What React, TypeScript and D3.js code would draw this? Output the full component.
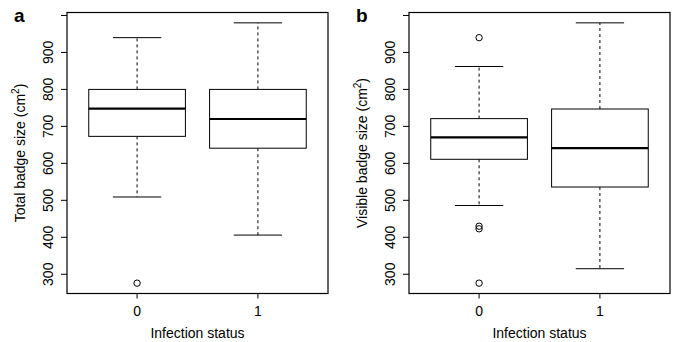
import React from "react";
import * as d3 from "d3";

const groups = [1, 2];
const groupLabels = ["0", "1"];
const yTicks = [300, 400, 500, 600, 700, 800, 900, 1000];
const yTickLabels = ["300", "400", "500", "600", "700", "800", "900", ""];

// Panel a: total badge size
const totalLow = [509, 406];
const totalQ1 = [673, 641];
const totalMedian = [748, 720];
const totalQ3 = [800, 800];
const totalHigh = [940, 980];
const totalOutliers0 = [276];
const totalOutliers1: number[] = [];

// Panel b: visible badge size
const visibleLow = [486, 315];
const visibleQ1 = [611, 536];
const visibleMedian = [670, 641];
const visibleQ3 = [721, 747];
const visibleHigh = [862, 980];
const visibleOutliers0 = [940, 430, 423, 276];
const visibleOutliers1: number[] = [];

const FONT = "'Liberation Sans', Arial, Helvetica, sans-serif";

type PanelProps = {
  left: number;
  right: number;
  letter: string;
  ylabel: string;
  low: number[];
  q1: number[];
  med: number[];
  q3: number[];
  high: number[];
  outliers: number[][];
};

function Panel({ left, right, letter, ylabel, low, q1, med, q3, high, outliers }: PanelProps) {
  const top = 12.5;
  const bottom = 293.5;
  const y = d3.scaleLinear().domain([248, 1008]).range([bottom, top]);
  const x = d3.scaleLinear().domain([0.42, 2.58]).range([left, right]);
  const bw = x(1.8) - x(1);
  const cw = bw / 2;
  const midY = (top + bottom) / 2;
  return (
    <g fontFamily={FONT}>
      <text x={left - 53} y={21.5} fontSize={19} fontWeight="bold">{letter}</text>
      {/* frame */}
      <rect x={left} y={top} width={right - left} height={bottom - top} fill="none" stroke="#000" strokeWidth={1.2} />
      {/* y axis ticks */}
      {yTicks.map((t, i) => (
        <g key={t}>
          <line x1={left - 6} x2={left} y1={y(t)} y2={y(t)} stroke="#000" strokeWidth={1} />
          <text
            transform={`translate(${left - 14},${y(t)}) rotate(-90)`}
            textAnchor="middle"
            fontSize={14}
          >
            {yTickLabels[i]}
          </text>
        </g>
      ))}
      {/* y label */}
      <text transform={`translate(${left - 42},${midY}) rotate(-90)`} textAnchor="middle" fontSize={14}>
        {ylabel} (cm
        <tspan fontSize={10} dy={-6}>2</tspan>
        <tspan dy={6}>)</tspan>
      </text>
      {/* x ticks */}
      {groups.map((g, i) => (
        <g key={g}>
          <line x1={x(g)} x2={x(g)} y1={bottom} y2={bottom + 5} stroke="#000" strokeWidth={1} />
          <text x={x(g)} y={315.5} textAnchor="middle" fontSize={14}>{groupLabels[i]}</text>
        </g>
      ))}
      <text x={(left + right) / 2} y={338} textAnchor="middle" fontSize={14}>Infection status</text>
      {/* boxes */}
      {groups.map((g, i) => {
        const cx = x(g);
        return (
          <g key={"b" + g}>
            <line x1={cx} x2={cx} y1={y(q3[i])} y2={y(high[i])} stroke="#000" strokeWidth={1} strokeDasharray="3,3" />
            <line x1={cx} x2={cx} y1={y(q1[i])} y2={y(low[i])} stroke="#000" strokeWidth={1} strokeDasharray="3,3" />
            <line x1={cx - cw / 2} x2={cx + cw / 2} y1={y(high[i])} y2={y(high[i])} stroke="#000" strokeWidth={1} />
            <line x1={cx - cw / 2} x2={cx + cw / 2} y1={y(low[i])} y2={y(low[i])} stroke="#000" strokeWidth={1} />
            <rect x={cx - bw / 2} y={y(q3[i])} width={bw} height={y(q1[i]) - y(q3[i])} fill="#fff" stroke="#000" strokeWidth={1} />
            <line x1={cx - bw / 2} x2={cx + bw / 2} y1={y(med[i])} y2={y(med[i])} stroke="#000" strokeWidth={2.2} />
            {outliers[i].map((o, j) => (
              <circle key={j} cx={cx} cy={y(o)} r={3.2} fill="none" stroke="#000" strokeWidth={1} />
            ))}
          </g>
        );
      })}
    </g>
  );
}

export default function App() {
  return (
    <svg width={691} height={342} style={{ position: "absolute", left: 0, top: 0, background: "#fff" }}>
      <rect width={691} height={342} fill="#fff" />
      <Panel
        left={67}
        right={328}
        letter="a"
        ylabel="Total badge size"
        low={totalLow}
        q1={totalQ1}
        med={totalMedian}
        q3={totalQ3}
        high={totalHigh}
        outliers={[totalOutliers0, totalOutliers1]}
      />
      <Panel
        left={409}
        right={670}
        letter="b"
        ylabel="Visible badge size"
        low={visibleLow}
        q1={visibleQ1}
        med={visibleMedian}
        q3={visibleQ3}
        high={visibleHigh}
        outliers={[visibleOutliers0, visibleOutliers1]}
      />
    </svg>
  );
}
